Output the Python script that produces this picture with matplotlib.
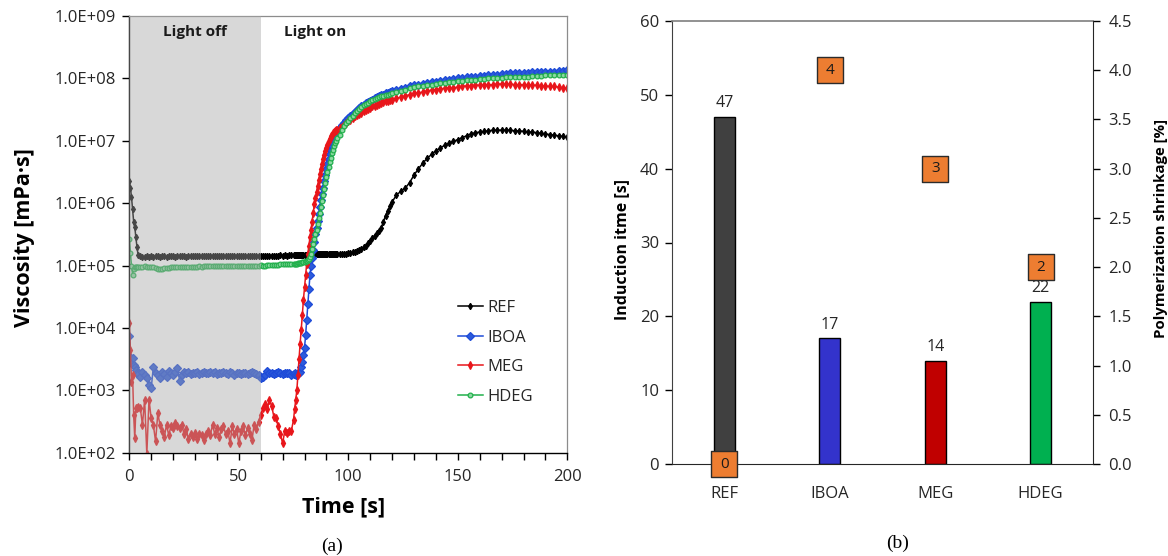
import numpy as np
import matplotlib
matplotlib.use("Agg")
import matplotlib.pyplot as plt
from matplotlib.ticker import FixedLocator, MultipleLocator, FuncFormatter, FormatStrFormatter
import matplotlib.transforms as mtransforms

plt.rcParams['font.family'] = ['Open Sans', 'DejaVu Sans']

# ---------------- data: (a) viscosity vs time ----------------
time_s = [0, 0.5, 1, 1.5, 2, 2.5, 3, 3.5,
          4, 5, 6, 7, 8, 9, 10, 11, 12, 13,
          14, 15, 16, 17, 18, 19, 20, 21, 22, 23,
          24, 25, 26, 27, 28, 29, 30, 31, 32, 33,
          34, 35, 36, 37, 38, 39, 40, 41, 42, 43,
          44, 45, 46, 47, 48, 49, 50, 51, 52, 53,
          54, 55, 56, 57, 58, 59, 60, 61, 62, 63,
          64, 65, 66, 67, 68, 69, 70, 71, 72, 73,
          74, 75,
          75.5, 76, 76.5, 77, 77.5, 78, 78.5, 79, 79.5, 80,
          80.5, 81, 81.5, 82, 82.5, 83, 83.5, 84, 84.5, 85,
          85.5, 86, 86.5, 87, 87.5, 88, 88.5, 89, 89.5, 90,
          90.5, 91, 91.5, 92, 92.5, 93, 93.5, 94, 94.5, 95,
          96, 97, 98, 99, 100, 101, 102, 103, 104, 105,
          106, 107, 108, 109, 110, 111, 112, 113, 114, 115,
          116, 117, 118, 119, 120,
          122, 124, 126, 128, 130, 132, 134, 136, 138, 140,
          142, 144, 146, 148, 150, 152, 154, 156, 158, 160,
          162, 164, 166, 168, 170, 172, 174, 176, 178, 180,
          182, 184, 186, 188, 190, 192, 194, 196, 198, 200]

# log10 of viscosity [mPa·s]
ref_log = [6.36, 6.25, 6.10, 5.90, 5.70, 5.62, 5.45, 5.30,
           5.17, 5.15, 5.14, 5.14, 5.15, 5.14, 5.15, 5.14, 5.15, 5.15,
           5.14, 5.15, 5.15, 5.14, 5.15, 5.15, 5.15, 5.14, 5.15, 5.15,
           5.15, 5.15, 5.14, 5.15, 5.15, 5.15, 5.15, 5.15, 5.15, 5.15,
           5.15, 5.16, 5.15, 5.15, 5.15, 5.16, 5.15, 5.15, 5.16, 5.15,
           5.15, 5.16, 5.16, 5.15, 5.16, 5.16, 5.16, 5.15, 5.16, 5.16,
           5.16, 5.16, 5.16, 5.16, 5.16, 5.16, 5.16, 5.16, 5.16, 5.16,
           5.16, 5.16, 5.16, 5.16, 5.16, 5.17, 5.16, 5.17, 5.16, 5.17,
           5.17, 5.17,
           5.17, 5.17, 5.17, 5.17, 5.17, 5.17, 5.17, 5.17, 5.17, 5.17,
           5.17, 5.17, 5.17, 5.17, 5.17, 5.17, 5.17, 5.18, 5.17, 5.18,
           5.18, 5.18, 5.18, 5.18, 5.18, 5.18, 5.18, 5.18, 5.18, 5.18,
           5.18, 5.18, 5.18, 5.18, 5.18, 5.18, 5.18, 5.18, 5.18, 5.18,
           5.18, 5.18, 5.19, 5.19, 5.20, 5.20, 5.21, 5.22, 5.23, 5.25,
           5.27, 5.29, 5.32, 5.36, 5.40, 5.44, 5.48, 5.52, 5.55, 5.60,
           5.70, 5.80, 5.88, 5.95, 6.02,
           6.13, 6.19, 6.24, 6.33, 6.45, 6.55, 6.64, 6.72, 6.78, 6.84,
           6.88, 6.93, 6.96, 6.99, 7.02, 7.05, 7.08, 7.11, 7.13, 7.14,
           7.15, 7.16, 7.17, 7.17, 7.17, 7.17, 7.17, 7.16, 7.16, 7.15,
           7.14, 7.14, 7.13, 7.12, 7.11, 7.10, 7.09, 7.08, 7.07, 7.06]

iboa_log = [3.87, 3.54, 3.43, 3.52, 3.40, 3.38, 3.32, 3.28,
            3.26, 3.22, 3.30, 3.24, 3.20, 3.08, 3.03, 3.38, 3.28, 3.24,
            3.20, 3.30, 3.26, 3.22, 3.31, 3.28, 3.24, 3.30, 3.35, 3.15,
            3.25, 3.29, 3.27, 3.30, 3.26, 3.28, 3.27, 3.29, 3.26, 3.28,
            3.29, 3.27, 3.28, 3.30, 3.27, 3.29, 3.26, 3.28, 3.27, 3.29,
            3.28, 3.26, 3.29, 3.27, 3.25, 3.28, 3.27, 3.26, 3.28, 3.27,
            3.26, 3.28, 3.30, 3.27, 3.26, 3.25, 3.20, 3.22, 3.25, 3.31,
            3.28, 3.27, 3.26, 3.28, 3.29, 3.27, 3.26, 3.27, 3.28, 3.27,
            3.24, 3.26,
            3.27, 3.25, 3.26, 3.27, 3.28, 3.30, 3.38, 3.46, 3.56, 3.68,
            3.88, 4.12, 4.38, 4.62, 4.85, 5.00, 5.12, 5.25, 5.38, 5.50,
            5.60, 5.72, 5.83, 5.94, 6.05, 6.15, 6.25, 6.35, 6.45, 6.55,
            6.63, 6.71, 6.78, 6.85, 6.91, 6.97, 7.02, 7.07, 7.11, 7.15,
            7.20, 7.25, 7.29, 7.33, 7.37, 7.40, 7.43, 7.46, 7.49, 7.52,
            7.55, 7.58, 7.60, 7.62, 7.64, 7.66, 7.68, 7.70, 7.72, 7.73,
            7.74, 7.76, 7.77, 7.78, 7.79,
            7.81, 7.83, 7.85, 7.87, 7.89, 7.90, 7.91, 7.93, 7.94, 7.95,
            7.96, 7.97, 7.98, 7.99, 8.00, 8.01, 8.02, 8.02, 8.03, 8.04,
            8.04, 8.05, 8.06, 8.06, 8.07, 8.07, 8.08, 8.08, 8.09, 8.09,
            8.09, 8.10, 8.10, 8.10, 8.11, 8.11, 8.11, 8.12, 8.12, 8.13]

meg_log = [4.08, 3.65, 3.14, 3.25, 2.60, 2.23, 2.71, 2.72,
           2.73, 2.72, 2.45, 2.85, 1.98, 2.85, 2.55, 2.44, 2.18, 2.63,
           2.45, 2.35, 2.25, 2.45, 2.28, 2.42, 2.40, 2.48, 2.42, 2.40,
           2.44, 2.30, 2.38, 2.22, 2.30, 2.25, 2.32, 2.22, 2.30, 2.28,
           2.20, 2.30, 2.35, 2.28, 2.45, 2.30, 2.40, 2.25, 2.38, 2.42,
           2.30, 2.35, 2.15, 2.42, 2.30, 2.38, 2.15, 2.35, 2.42, 2.28,
           2.40, 2.30, 2.20, 2.45, 2.38, 2.50, 2.60, 2.72, 2.78, 2.70,
           2.85, 2.75, 2.58, 2.55, 2.42, 2.30, 2.15, 2.35, 2.32, 2.34,
           2.35, 2.53,
           2.70, 2.85, 3.00, 3.25, 3.50, 3.75, 3.97, 4.20, 4.45, 4.65,
           4.85, 5.03, 5.18, 5.32, 5.45, 5.57, 5.70, 5.85, 5.98, 6.08,
           6.18, 6.28, 6.37, 6.46, 6.55, 6.63, 6.70, 6.77, 6.83, 6.89,
           6.94, 6.99, 7.03, 7.07, 7.10, 7.12, 7.14, 7.16, 7.17, 7.18,
           7.20, 7.22, 7.25, 7.28, 7.31, 7.34, 7.37, 7.39, 7.41, 7.43,
           7.45, 7.47, 7.49, 7.51, 7.53, 7.55, 7.56, 7.58, 7.59, 7.60,
           7.62, 7.63, 7.64, 7.65, 7.66,
           7.68, 7.70, 7.72, 7.74, 7.76, 7.77, 7.78, 7.80, 7.81, 7.82,
           7.83, 7.84, 7.85, 7.85, 7.86, 7.87, 7.88, 7.88, 7.89, 7.89,
           7.90, 7.90, 7.90, 7.91, 7.91, 7.91, 7.91, 7.90, 7.90, 7.90,
           7.90, 7.89, 7.89, 7.88, 7.88, 7.87, 7.87, 7.86, 7.85, 7.84]

hdeg_log = [5.42, 5.20, 5.00, 4.85, 4.95, 4.98, 4.98, 4.97,
            4.98, 4.98, 4.98, 4.99, 4.98, 4.98, 4.98, 4.97, 4.96, 4.95,
            4.95, 4.95, 4.96, 4.96, 4.96, 4.97, 4.97, 4.97, 4.97, 4.97,
            4.97, 4.98, 4.98, 4.98, 4.98, 4.98, 4.98, 4.98, 4.99, 4.98,
            4.99, 4.99, 4.99, 4.99, 4.99, 4.99, 4.99, 4.99, 4.99, 4.99,
            5.00, 4.99, 5.00, 5.00, 5.00, 5.00, 5.00, 5.00, 5.00, 5.00,
            5.00, 5.00, 5.00, 5.00, 5.00, 5.00, 5.01, 5.00, 5.00, 5.01,
            5.01, 5.01, 5.01, 5.01, 5.01, 5.02, 5.02, 5.02, 5.02, 5.02,
            5.03, 5.03,
            5.03, 5.03, 5.03, 5.04, 5.04, 5.04, 5.04, 5.05, 5.05, 5.06,
            5.07, 5.08, 5.09, 5.11, 5.14, 5.18, 5.26, 5.34, 5.42, 5.50,
            5.57, 5.66, 5.76, 5.85, 5.94, 6.04, 6.13, 6.23, 6.33, 6.42,
            6.50, 6.58, 6.66, 6.73, 6.80, 6.86, 6.91, 6.96, 7.00, 7.04,
            7.10, 7.17, 7.23, 7.28, 7.32, 7.36, 7.40, 7.44, 7.48, 7.51,
            7.54, 7.57, 7.59, 7.61, 7.63, 7.65, 7.67, 7.68, 7.70, 7.71,
            7.72, 7.73, 7.74, 7.75, 7.76,
            7.78, 7.80, 7.82, 7.84, 7.86, 7.87, 7.88, 7.89, 7.90, 7.91,
            7.92, 7.93, 7.94, 7.95, 7.96, 7.96, 7.97, 7.98, 7.98, 7.99,
            7.99, 8.00, 8.00, 8.01, 8.01, 8.02, 8.02, 8.02, 8.03, 8.03,
            8.03, 8.04, 8.04, 8.04, 8.05, 8.05, 8.05, 8.05, 8.06, 8.06]

series_names = ["REF", "IBOA", "MEG", "HDEG"]

# ---------------- data: (b) induction time & shrinkage ----------------
materials = ["REF", "IBOA", "MEG", "HDEG"]
induction_time = [47, 17, 14, 22]
shrinkage = [0, 4, 3, 2]
bar_colors = ["#404040", "#3333CC", "#C00000", "#00B050"]

for name, arr in zip(series_names, [ref_log, iboa_log, meg_log, hdeg_log]):
    assert len(arr) == len(time_s), (name, len(arr), len(time_s))

# ---------------- figure ----------------
fig = plt.figure(figsize=(11.68, 5.56), dpi=100)
W, H = 1168, 556

def rect(l, t, r, b):
    return [l / W, 1 - b / H, (r - l) / W, (b - t) / H]

tick_col = "#262626"
tick_fs = 12

# ---- (a)
axa = fig.add_axes(rect(129.3, 16, 567.3, 452.7))
t = np.array(time_s)
styles = [
    dict(color="#000000", marker="d", ms=3.2, mfc="#000000", mec="#000000"),
    dict(color="#1E4BD8", marker="D", ms=4.5, mfc="#2C5BDB", mec="#1E4BD8"),
    dict(color="#E8161B", marker="d", ms=3.6, mfc="#E8161B", mec="#E8161B"),
    dict(color="#22B04C", marker="o", ms=3.4, mfc="#8CD9A2", mec="#22B04C"),
]
for name, arr, st in zip(series_names, [ref_log, iboa_log, meg_log, hdeg_log], styles):
    axa.plot(t, 10.0 ** np.array(arr), lw=1.1, label=name, zorder=2, mew=0.9, **st)

axa.axvspan(0, 60, color="#A6A6A6", alpha=0.43, lw=0, zorder=3)
axa.set_yscale("log")
axa.set_ylim(1e2, 1e9)
axa.set_xlim(0, 200)
axa.yaxis.set_major_locator(FixedLocator([10.0 ** k for k in range(2, 10)]))
axa.yaxis.set_minor_locator(FixedLocator([]))
axa.yaxis.set_major_formatter(FuncFormatter(lambda v, p: f"{v:.1E}"))
axa.xaxis.set_major_locator(MultipleLocator(50))
axa.xaxis.set_minor_locator(MultipleLocator(10))
axa.tick_params(axis="both", which="both", direction="out", length=5, width=1,
                labelsize=tick_fs, colors="#000000", labelcolor=tick_col)
axa.tick_params(axis="x", which="major", pad=7)
axa.tick_params(axis="y", which="major", pad=5)
for s in ["top", "right"]:
    axa.spines[s].set_color("#8C8C8C")
    axa.spines[s].set_linewidth(0.9)
for s in ["left", "bottom"]:
    axa.spines[s].set_color("#000000")
    axa.spines[s].set_linewidth(1.0)

trans = mtransforms.blended_transform_factory(axa.transData, axa.transAxes)
axa.text(30, 0.963, "Light off", transform=trans, ha="center", va="center",
         fontsize=11, fontweight="bold", color="#1a1a1a", zorder=5)
axa.text(70.5, 0.963, "Light on", transform=trans, ha="left", va="center",
         fontsize=11, fontweight="bold", color="#1a1a1a", zorder=5)

leg = axa.legend(loc="upper left", bbox_to_anchor=(0.75, 0.35), frameon=False,
                 fontsize=12, handlelength=1.5, handletextpad=0.25,
                 labelspacing=0.82, borderpad=0, borderaxespad=0)
for txt in leg.get_texts():
    txt.set_color(tick_col)

fig.text(25 / W, 1 - 238 / H, "Viscosity [mPa·s]", rotation=90, ha="center",
         va="center", fontsize=15.5, fontweight="bold", color="#000000")
fig.text(344 / W, 1 - 507 / H, "Time [s]", ha="center", va="center",
         fontsize=15.5, fontweight="bold", color="#000000")
fig.text(332 / W, 1 - 546 / H, "(a)", ha="center", va="center",
         fontsize=14, family=["Liberation Serif", "DejaVu Serif"], color="#000000")

# ---- (b)
axb = fig.add_axes(rect(671.7, 21, 1093.3, 464))
x = np.arange(len(materials))
bars = axb.bar(x, induction_time, width=0.2, color=bar_colors,
               edgecolor="#000000", linewidth=1.0, zorder=2)
axb.bar_label(bars, labels=[str(v) for v in induction_time], padding=4,
              fontsize=11.5, color=tick_col)
axb.set_xlim(-0.5, 3.5)
axb.set_ylim(0, 60)
axb.set_xticks(x)
axb.set_xticklabels(materials)
axb.yaxis.set_major_locator(MultipleLocator(10))
axb.tick_params(axis="x", length=0, pad=16, labelsize=tick_fs, labelcolor=tick_col)
axb.tick_params(axis="y", direction="out", length=5, width=1, labelsize=tick_fs,
                labelcolor=tick_col, pad=4)
axb.spines["top"].set_color("#7F7F7F")
axb.spines["top"].set_linewidth(1.2)
axb.spines["left"].set_color("#404040")
axb.spines["bottom"].set_color("#262626")
axb.spines["right"].set_visible(False)

ax2 = axb.twinx()
ax2.set_ylim(0, 4.5)
ax2.yaxis.set_major_locator(MultipleLocator(0.5))
ax2.yaxis.set_major_formatter(FormatStrFormatter("%.1f"))
ax2.tick_params(axis="y", direction="out", length=5, width=1, labelsize=tick_fs,
                labelcolor=tick_col, pad=6)
ax2.spines["right"].set_color("#262626")
for s in ["top", "left", "bottom"]:
    ax2.spines[s].set_visible(False)
ax2.scatter(x, shrinkage, marker="s", s=330, color="#ED7D31",
            edgecolors="#2b2b2b", linewidths=1.0, zorder=5, clip_on=False)
for xi, v in zip(x, shrinkage):
    ax2.text(xi, v, str(v), ha="center", va="center", fontsize=11,
             color="#1a1a1a", zorder=6, clip_on=False)

fig.text(622 / W, 1 - 250 / H, "Induction itme [s]", rotation=90, ha="center",
         va="center", fontsize=11.5, fontweight="bold", color="#000000")
fig.text(1161 / W, 1 - 228 / H, "Polymerization shrinkage [%]", rotation=90,
         ha="center", va="center", fontsize=10.8, fontweight="bold", color="#000000")
fig.text(898 / W, 1 - 543 / H, "(b)", ha="center", va="center",
         fontsize=14, family=["Liberation Serif", "DejaVu Serif"], color="#000000")

fig.savefig("out.png", dpi=100)
